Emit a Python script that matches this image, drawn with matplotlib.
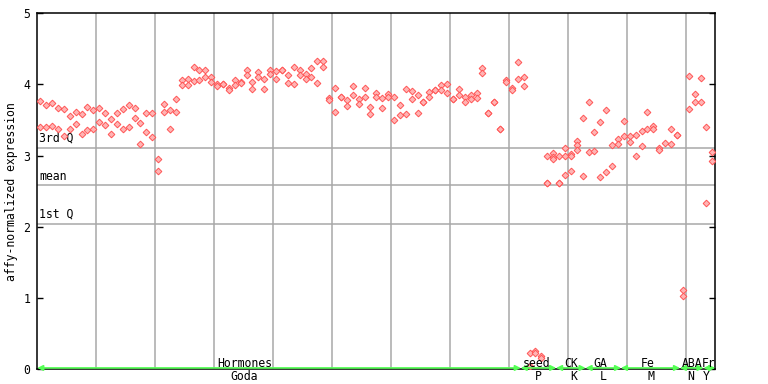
import numpy as np
import matplotlib
matplotlib.use("Agg")
from matplotlib import pyplot as plt

# expression values per sample (index along x)
sample = [0, 0, 1, 1, 2, 2, 3, 3, 4, 4, 5, 5, 6, 6, 7, 7, 8, 8, 9, 9,
          10, 10, 11, 11, 12, 12, 13, 13, 14, 14, 15, 15, 16, 16, 17, 17, 18, 18, 19, 19,
          20, 20, 21, 21, 22, 22, 23, 23, 24, 24, 25, 25, 26, 26, 27, 27, 28, 28, 29, 29,
          30, 30, 31, 31, 32, 32, 33, 33, 34, 34, 35, 35, 36, 36, 37, 37, 38, 38, 39, 39,
          40, 40, 41, 41, 42, 42, 43, 43, 44, 44, 45, 45, 46, 46, 47, 47, 48, 48, 49, 49,
          50, 50, 51, 51, 52, 52, 53, 53, 54, 54, 55, 55, 56, 56, 57, 57, 58, 58, 59, 59,
          60, 60, 61, 61, 62, 62, 63, 63, 64, 64, 65, 65, 66, 66, 67, 67, 68, 68, 69, 69,
          70, 70, 71, 71, 72, 72, 73, 73, 74, 74, 75, 75, 76, 76, 77, 77, 78, 78, 79, 79,
          80, 80, 81, 81, 82, 82, 83, 83, 84, 84, 85, 85, 86, 86, 86, 87, 87, 87,
          88, 88, 88, 89, 89, 89, 90, 90, 90, 91, 91, 91, 92, 92, 93, 93, 94, 94, 95, 95,
          96, 96, 97, 97, 98, 98, 99, 99, 100, 100, 101, 101, 102, 102, 103, 103, 104, 104,
          105, 105, 106, 107, 107, 108, 108, 109, 109, 110, 110, 111, 111, 112, 112,
          113, 113, 114, 114]
expr = [3.77, 3.40, 3.71, 3.40, 3.74, 3.41, 3.67, 3.37, 3.66, 3.27,
        3.55, 3.37, 3.61, 3.44, 3.58, 3.31, 3.68, 3.36, 3.64, 3.38,
        3.67, 3.47, 3.60, 3.43, 3.51, 3.30, 3.60, 3.44, 3.65, 3.38,
        3.71, 3.40, 3.67, 3.53, 3.46, 3.16, 3.60, 3.33, 3.60, 3.26,
        2.95, 2.79, 3.72, 3.61, 3.64, 3.37, 3.79, 3.61, 4.06, 3.99,
        4.07, 3.99, 4.24, 4.05, 4.20, 4.06, 4.20, 4.10, 4.10, 4.03,
        4.00, 3.98, 4.01, 4.01, 3.95, 3.92, 4.06, 3.99, 4.03, 4.02,
        4.20, 4.13, 4.03, 3.93, 4.17, 4.11, 4.07, 3.93, 4.21, 4.14,
        4.19, 4.07, 4.20, 4.20, 4.13, 4.02, 4.24, 4.00, 4.21, 4.13,
        4.14, 4.07, 4.23, 4.10, 4.33, 4.02, 4.33, 4.24, 3.81, 3.78,
        3.95, 3.61, 3.82, 3.82, 3.78, 3.69, 3.98, 3.85, 3.79, 3.72,
        3.95, 3.83, 3.68, 3.58, 3.88, 3.82, 3.81, 3.67, 3.86, 3.83,
        3.82, 3.50, 3.71, 3.57, 3.93, 3.58, 3.91, 3.79, 3.85, 3.60,
        3.76, 3.76, 3.89, 3.83, 3.92, 3.92, 3.99, 3.92, 4.00, 3.88,
        3.79, 3.79, 3.93, 3.85, 3.83, 3.75, 3.85, 3.80, 3.88, 3.81,
        4.23, 4.16, 3.60, 3.60, 3.76, 3.76, 3.37, 3.37, 4.06, 4.03,
        3.95, 3.92, 4.31, 4.07, 4.10, 3.98, 0.225, 0.04, 0.25, 0.22,
        0.18, 0.16, 3.00, 2.61, 2.61, 3.03, 2.98, 2.95,
        3.00, 2.61, 2.61, 3.10, 2.99, 2.72, 3.02, 2.99, 2.78, 3.20, 3.15, 3.08,
        3.53, 2.71, 3.76, 3.05, 3.33, 3.06, 3.47, 2.70,
        3.64, 2.77, 3.15, 2.85, 3.23, 3.16, 3.48, 3.27, 3.27, 3.19, 3.29, 2.99,
        3.34, 3.13, 3.61, 3.37, 3.41, 3.38,
        3.10, 3.08, 3.17, 3.38, 3.16, 3.29, 3.29, 1.11, 1.02, 4.12, 3.65,
        3.86, 3.76, 4.09, 3.76, 3.40, 2.33, 3.05, 2.93]

n_samples = 115
quartiles = {"3rd Q": 3.11, "mean": 2.58, "1st Q": 2.04}

# experiment groups along the bottom
groups = ["Hormones", "seed", "CK", "GA", "Fe", "ABA", "Fr"]
group_start = [0, 82, 88, 93, 99, 109, 113]
group_end = [82, 88, 93, 99, 109, 113, 115]
group_center = [35.2, 84.7, 90.6, 95.5, 103.5, 111.0, 113.9]
sub_labels = ["Goda", "P", "K", "L", "M", "N", "Y"]
sub_center = [35.0, 84.9, 91.0, 95.9, 104.0, 110.8, 113.4]

font = "DejaVu Sans Mono"
fs = 8.3
grey = "#a8a8a8"
green = "#55ff55"

fig = plt.figure(figsize=(7.68, 3.84), dpi=100)
ax = fig.add_axes([37.3 / 768, 15 / 384, (715.3 - 37.3) / 768, (369 - 13.3) / 384])

ax.set_xlim(0, n_samples)
ax.set_ylim(0, 5)

for xv in range(10, n_samples, 10):
    ax.axvline(xv, color=grey, lw=1.1, zorder=1)
for name, val in quartiles.items():
    ax.axhline(val, color=grey, lw=1.1, zorder=1)
    ax.text(0.3, val + 0.04, name, family=font, fontsize=fs, va="bottom", ha="left")

x = np.array(sample) + 0.5
ax.plot(x, expr, linestyle="none", marker="D", ms=3.4, mfc="#ffb4b4",
        mec="#ff5555", mew=0.7, zorder=3)

# green group arrows on the baseline
for s, e in zip(group_start, group_end):
    ax.annotate("", xy=(e, 0.015), xytext=(s, 0.015),
                arrowprops=dict(arrowstyle="<|-|>", color=green, lw=1.2,
                                mutation_scale=8, shrinkA=0, shrinkB=0),
                annotation_clip=False, zorder=4)
for name, cx in zip(groups, group_center):
    ax.text(cx, 0.035, name, family=font, fontsize=fs, ha="center", va="baseline",
            zorder=5)
for name, cx in zip(sub_labels, sub_center):
    ax.text(cx, -0.004, name, family=font, fontsize=fs, ha="center", va="top",
            transform=ax.get_xaxis_transform(), clip_on=False)

ax.set_yticks(range(0, 6))
ax.set_xticks([])
ax.tick_params(axis="y", direction="in", length=4.5, width=1, right=True,
               labelright=False, pad=5, labelsize=fs)
for lab in ax.get_yticklabels():
    lab.set_family(font)
for sp in ax.spines.values():
    sp.set_linewidth(1.1)
ax.set_ylabel("affy-normalized expression", family=font, fontsize=fs, labelpad=4)

fig.savefig("out.png", dpi=100)
